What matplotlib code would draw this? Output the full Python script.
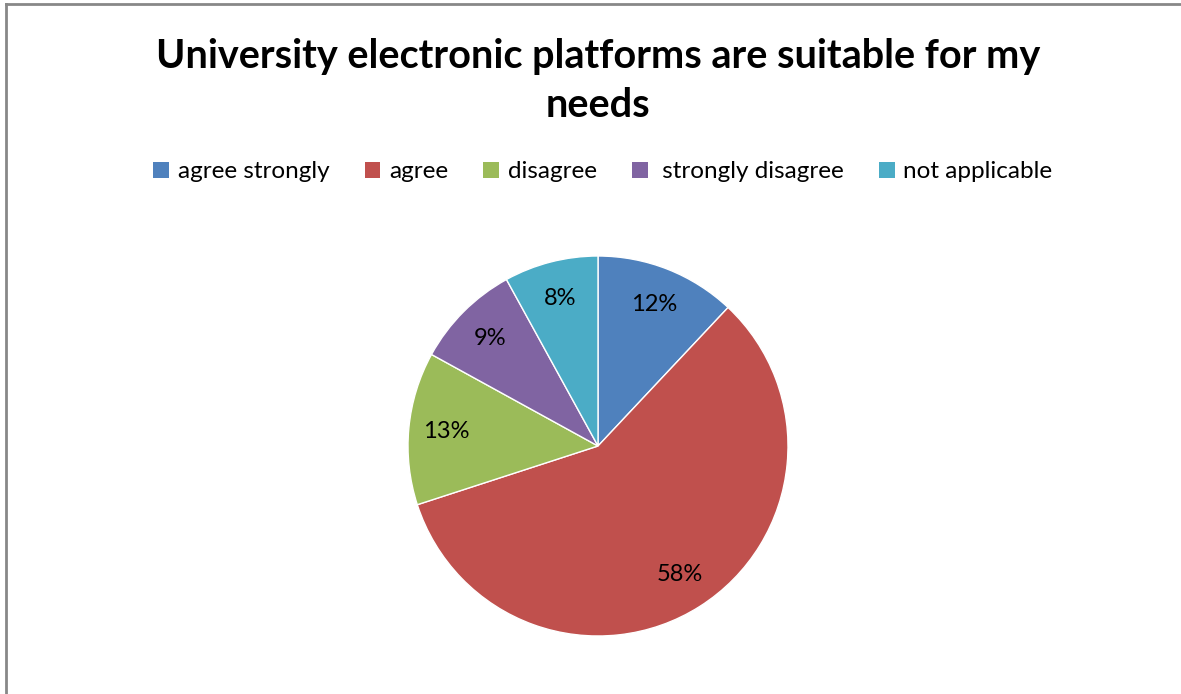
import matplotlib.pyplot as plt
from matplotlib.lines import Line2D
from matplotlib.patches import Patch

labels = ['agree strongly', 'agree', 'disagree', ' strongly disagree', 'not applicable']
values = [12, 58, 13, 9, 8]
colors = ['#4F81BD', '#C0504D', '#9BBB59', '#8064A2', '#4BACC6']

plt.rcParams['font.family'] = ['Lato', 'DejaVu Sans']

W, H = 1181, 694
fig = plt.figure(figsize=(W / 100, H / 100), dpi=100)

# chart area border (left and top visible)
fig.add_artist(Line2D([6 / W, 6 / W], [0, 1 - 3.5 / H], transform=fig.transFigure,
                      color='#888888', lw=2))
fig.add_artist(Line2D([6 / W, 1], [1 - 3.5 / H, 1 - 3.5 / H], transform=fig.transFigure,
                      color='#888888', lw=2))

fig.text(598 / W, 1 - 81 / H, 'University electronic platforms are suitable for my\nneeds',
         ha='center', va='center', fontsize=28.5, fontweight='bold', linespacing=1.4)

cx, cy, r = 598, 446, 190
ax = fig.add_axes([(cx - r) / W, (H - cy - r) / H, 2 * r / W, 2 * r / H])
wedges, texts, autotexts = ax.pie(values, colors=colors, startangle=90, counterclock=False,
                                  autopct='%d%%', pctdistance=0.8, radius=1,
                                  wedgeprops=dict(edgecolor='white', linewidth=1),
                                  textprops=dict(fontsize=17, color='black'))
ax.set_xlim(-1, 1)
ax.set_ylim(-1, 1)
ax.set_aspect('equal')
ax.axis('off')

handles = [Patch(facecolor=c, edgecolor='none') for c in colors]
fig.legend(handles, labels, loc='center', bbox_to_anchor=(603 / W, 1 - 172 / H), ncol=5,
           frameon=False, fontsize=17.5, handlelength=0.65, handleheight=0.65,
           handletextpad=0.35, columnspacing=1.45)

fig.savefig('out.png', dpi=100)
